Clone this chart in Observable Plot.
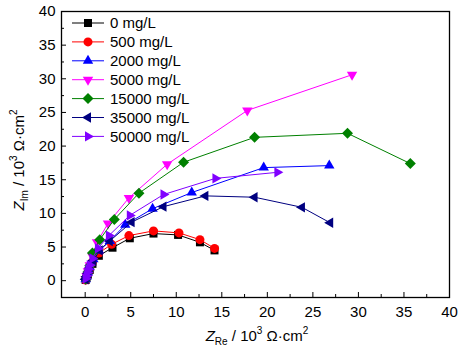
<!DOCTYPE html>
<html>
<head>
<meta charset="utf-8">
<script src="https://cdn.jsdelivr.net/npm/d3@7"></script>
<script src="https://cdn.jsdelivr.net/npm/@observablehq/plot@0.6"></script>
<style>
  body { margin: 0; background: white; }
  #chart { position: relative; width: 461px; height: 350px; }
</style>
</head>
<body>
<div id="chart"></div>
<script>
// ---- data (Z_Re, Z_Im in 10^3 Ω·cm²) ----
const seriesNames = ["0 mg/L", "500 mg/L", "2000 mg/L", "5000 mg/L", "15000 mg/L", "35000 mg/L", "50000 mg/L"];

const s0_x = [0.05, 0.15, 0.3, 0.5, 0.8, 1.5, 3.0, 4.9, 7.5, 10.2, 12.6, 14.2];
const s0_y = [0.1, 0.4, 0.9, 1.6, 2.5, 3.7, 4.9, 6.3, 7.0, 6.8, 5.7, 4.5];

const s500_x = [0.05, 0.15, 0.3, 0.5, 0.8, 1.5, 2.9, 4.8, 7.5, 10.3, 12.6, 14.2];
const s500_y = [0.1, 0.5, 1.0, 1.8, 2.8, 4.1, 5.4, 6.7, 7.4, 7.1, 6.1, 4.8];

const s2000_x = [0.05, 0.15, 0.3, 0.5, 0.9, 1.5, 2.7, 4.4, 7.4, 11.7, 19.6, 26.8];
const s2000_y = [0.2, 0.6, 1.2, 2.0, 3.2, 4.5, 5.9, 8.3, 10.7, 13.1, 16.8, 17.1];

const s5000_x = [0.05, 0.15, 0.3, 0.5, 0.8, 1.3, 2.5, 4.8, 9.0, 17.8, 29.3];
const s5000_y = [0.2, 0.7, 1.4, 2.3, 3.6, 5.7, 8.5, 12.3, 17.3, 25.3, 30.6];

const s15000_x = [0.05, 0.15, 0.3, 0.5, 0.8, 1.6, 3.2, 5.9, 10.8, 18.6, 28.8, 35.7];
const s15000_y = [0.2, 0.6, 1.3, 2.2, 4.1, 6.1, 9.1, 13.0, 17.6, 21.3, 21.9, 17.4];

const s35000_x = [0.05, 0.15, 0.3, 0.5, 0.9, 1.6, 2.7, 5.1, 8.6, 13.2, 18.6, 23.8, 26.9];
const s35000_y = [0.2, 0.6, 1.1, 1.9, 3.0, 4.5, 5.9, 8.7, 11.0, 12.6, 12.4, 10.9, 8.6];

const s50000_x = [0.05, 0.15, 0.25, 0.35, 0.5, 0.8, 1.4, 2.6, 4.9, 8.6, 14.3, 21.1];
const s50000_y = [0.3, 0.7, 1.2, 1.7, 2.3, 3.3, 4.8, 6.7, 9.7, 12.8, 15.2, 16.1];

const xTicks = [0, 5, 10, 15, 20, 25, 30, 35, 40];
const yTicks = [0, 5, 10, 15, 20, 25, 30, 35, 40];
const xMinor = [2.5, 7.5, 12.5, 17.5, 22.5, 27.5, 32.5, 37.5];
const yMinor = [2.5, 7.5, 12.5, 17.5, 22.5, 27.5, 32.5, 37.5];

// ---- symbols ----
function triangle(angleDeg, R) {
  return { draw(ctx) {
    for (let k = 0; k < 3; k++) {
      const a = (angleDeg + k * 120) * Math.PI / 180;
      const px = R * Math.cos(a), py = R * Math.sin(a);
      if (k === 0) ctx.moveTo(px, py); else ctx.lineTo(px, py);
    }
    ctx.closePath();
  }};
}
const squareSym = { draw(ctx) { const h = 4; ctx.moveTo(-h, -h); ctx.lineTo(h, -h); ctx.lineTo(h, h); ctx.lineTo(-h, h); ctx.closePath(); } };
const circleSym = { draw(ctx) { const r = 4.5; ctx.moveTo(r, 0); ctx.arc(0, 0, r, 0, 2 * Math.PI); ctx.closePath(); } };
const diamondSym = { draw(ctx) { const h = 5.5; ctx.moveTo(0, -h); ctx.lineTo(h, 0); ctx.lineTo(0, h); ctx.lineTo(-h, 0); ctx.closePath(); } };

const styles = [
  { color: "#000000", sym: squareSym },
  { color: "#ff0000", sym: circleSym },
  { color: "#0000ff", sym: triangle(-90, 6) },
  { color: "#ff00ff", sym: triangle(90, 6) },
  { color: "#008000", sym: diamondSym },
  { color: "#000080", sym: triangle(180, 6) },
  { color: "#8000ff", sym: triangle(0, 6) }
];

const xs = [s0_x, s500_x, s2000_x, s5000_x, s15000_x, s35000_x, s50000_x];
const ys = [s0_y, s500_y, s2000_y, s5000_y, s15000_y, s35000_y, s50000_y];

const seriesMarks = [];
seriesNames.forEach((name, i) => {
  const rows = xs[i].map((x, j) => ({ x, y: ys[i][j], series: name }));
  seriesMarks.push(Plot.line(rows, { x: "x", y: "y", stroke: styles[i].color, strokeWidth: 1 }));
  seriesMarks.push(Plot.dot(rows, { x: "x", y: "y", symbol: styles[i].sym, fill: styles[i].color, stroke: "none", r: 4 }));
});

const FONT = "'Liberation Sans', Arial, sans-serif";
const W = 461, H = 350, ML = 61, MR = 12, MT = 11, MB = 53;
const plotW = W - ML - MR, plotH = H - MT - MB;

const chart = Plot.plot({
  width: W,
  height: H,
  marginLeft: ML,
  marginRight: MR,
  marginTop: MT,
  marginBottom: MB,
  x: { domain: [-2.6, 40] },
  y: { domain: [-2.5, 40] },
  style: { fontFamily: FONT, fontSize: "15px", color: "black", background: "white" },
  marks: [
    // tick labels
    Plot.axisX({ ticks: xTicks, tickSize: 0, tickPadding: 9, label: null }),
    Plot.axisY({ ticks: yTicks, tickSize: 0, tickPadding: 6, label: null }),
    // inward major ticks
    Plot.tickX(xTicks, { x: d => d, stroke: "black", strokeWidth: 1, insetTop: plotH - 5 }),
    Plot.tickY(yTicks, { y: d => d, stroke: "black", strokeWidth: 1, insetRight: plotW - 5 }),
    // inward minor ticks
    Plot.tickX(xMinor, { x: d => d, stroke: "black", strokeWidth: 1, insetTop: plotH - 3 }),
    Plot.tickY(yMinor, { y: d => d, stroke: "black", strokeWidth: 1, insetRight: plotW - 3 }),
    ...seriesMarks,
    Plot.frame({ stroke: "black", strokeWidth: 1.3 })
  ]
});

document.getElementById("chart").appendChild(chart);

// ---- legend & axis titles ----
const svg = d3.select(chart);
const lg = svg.append("g").attr("font-family", FONT).attr("font-size", 15).attr("text-anchor", "start");
seriesNames.forEach((name, i) => {
  const cy = 23 + i * 18.9;
  const g = lg.append("g").attr("transform", `translate(0,${cy})`);
  g.append("line").attr("x1", 72).attr("x2", 104).attr("y1", 0).attr("y2", 0).attr("stroke", styles[i].color).attr("stroke-width", 1);
  const p = d3.path(); styles[i].sym.draw(p);
  g.append("path").attr("d", p.toString()).attr("transform", "translate(88,0)").attr("fill", styles[i].color);
  g.append("text").attr("x", 110).attr("y", 0).attr("dy", "0.36em").attr("text-anchor", "start").attr("fill", "black").text(name);
});

function axisTitle(sel, sub) {
  sel.append("tspan").attr("font-style", "italic").text("Z");
  sel.append("tspan").attr("font-size", 10).attr("dy", 4).text(sub);
  sel.append("tspan").attr("dy", -4).text(" / 10");
  sel.append("tspan").attr("font-size", 10).attr("dy", -7).text("3");
  sel.append("tspan").attr("dy", 7).text(" Ω·cm");
  sel.append("tspan").attr("font-size", 10).attr("dy", -7).text("2");
}

const xl = svg.append("text").attr("x", 257).attr("y", 341).attr("text-anchor", "middle")
  .attr("font-family", FONT).attr("font-size", 15).attr("fill", "black");
axisTitle(xl, "Re");

const yl = svg.append("text").attr("transform", "translate(24,160) rotate(-90)").attr("text-anchor", "middle")
  .attr("font-family", FONT).attr("font-size", 15).attr("fill", "black");
axisTitle(yl, "Im");
</script>
</body>
</html>
